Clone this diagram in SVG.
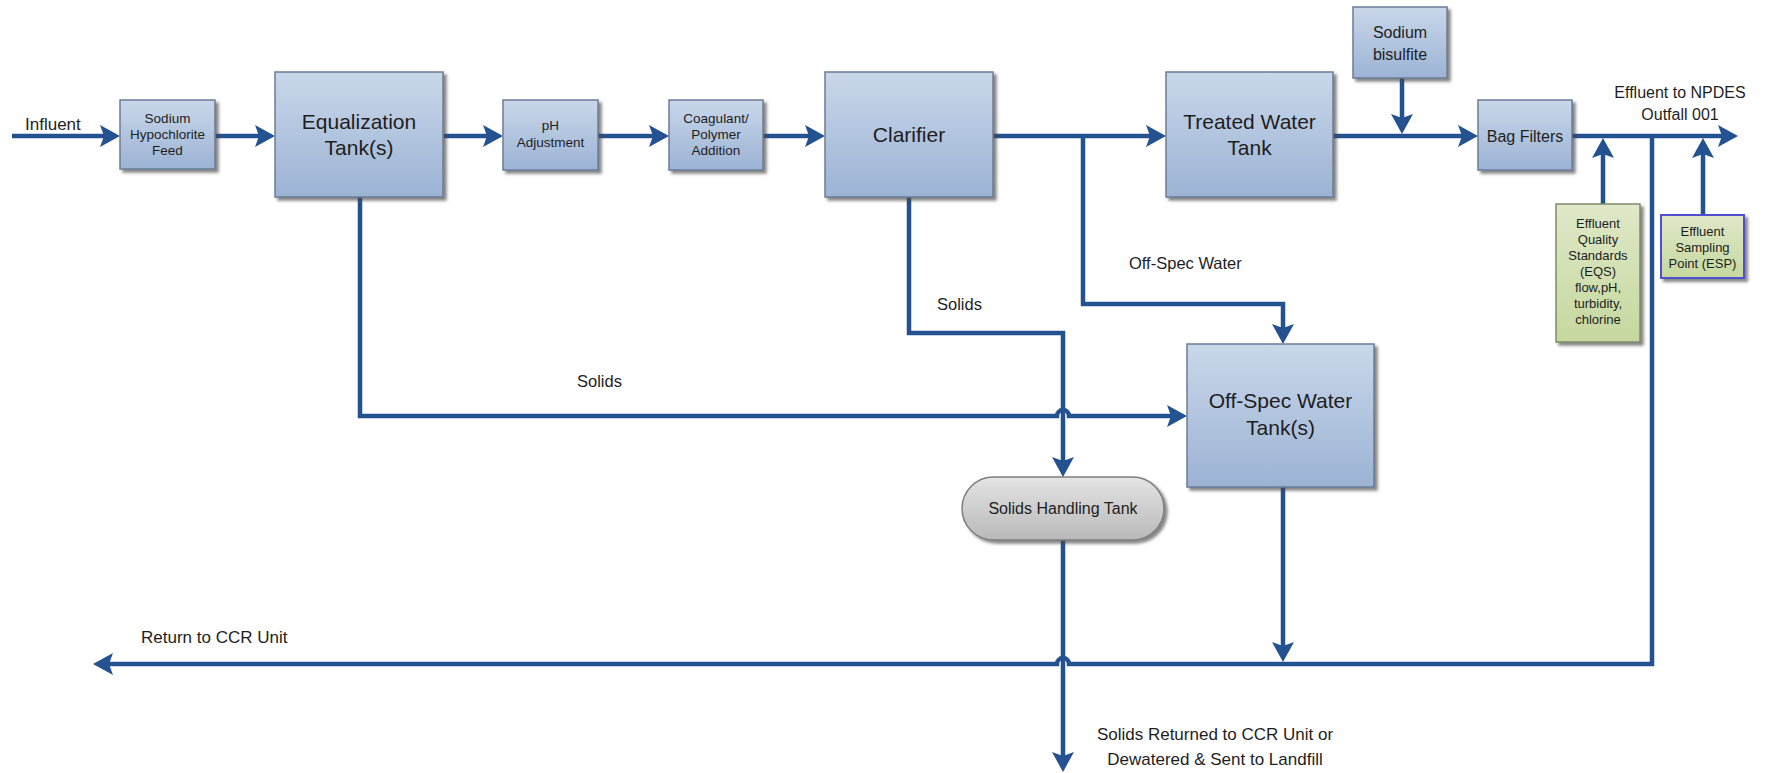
<svg xmlns="http://www.w3.org/2000/svg" width="1767" height="773" viewBox="0 0 1767 773">
<defs>
<linearGradient id="gBlue" x1="0" y1="0" x2="0" y2="1"><stop offset="0" stop-color="#c9d7ea"/><stop offset="1" stop-color="#9cb3d4"/></linearGradient>
<linearGradient id="gGreen" x1="0" y1="0" x2="0" y2="1"><stop offset="0" stop-color="#dfe8c8"/><stop offset="1" stop-color="#c6d89f"/></linearGradient>
<linearGradient id="gGray" x1="0" y1="0" x2="0" y2="1"><stop offset="0" stop-color="#e4e4e4"/><stop offset="1" stop-color="#b9b9b9"/></linearGradient>
<filter id="sh" x="-10%" y="-10%" width="130%" height="130%"><feDropShadow dx="3" dy="3" stdDeviation="1.5" flood-color="#444" flood-opacity="0.65"/></filter>
<marker id="arr" markerUnits="userSpaceOnUse" viewBox="0 0 20 22" markerWidth="20" markerHeight="22" refX="6" refY="11" orient="auto"><path d="M0,0 L20,11 L0,22 L4,11 z" fill="#24518f"/></marker>
<style>
.box{fill:url(#gBlue);stroke:#6b7c96;stroke-width:1.5;filter:url(#sh)}
.gbox{fill:url(#gGreen);stroke:#7d8b68;stroke-width:1.5;filter:url(#sh)}
.pill{fill:url(#gGray);stroke:#7f7f7f;stroke-width:1.5;filter:url(#sh)}
.ln{fill:none;stroke:#24518f;stroke-width:4.5;stroke-linejoin:miter}
.ar{marker-end:url(#arr)}
text{font-family:"Liberation Sans",Arial,sans-serif;fill:#1e1e1e}
.c{text-anchor:middle}
.s{font-size:13.5px}
.xs{font-size:13px}
.m{font-size:16px}
.l{font-size:21px}
.lb{font-size:17px}
</style>
</defs>

<g id="connectors">
<path class="ln ar" d="M12,136 H106"/>
<path class="ln ar" d="M215,136 H261"/>
<path class="ln ar" d="M443,136 H489"/>
<path class="ln ar" d="M598,136 H655"/>
<path class="ln ar" d="M763,136 H811"/>
<path class="ln ar" d="M993,136 H1152"/>
<path class="ln ar" d="M1333,136 H1464"/>
<path class="ln ar" d="M1402,78 V120"/>
<path class="ln ar" d="M1572,136 H1724"/>
<path class="ln ar" d="M1603,204 V152"/>
<path class="ln ar" d="M1703,215 V152"/>
<path class="ln ar" d="M1652,136 V664 H1069 a6,6 0 0 0 -12,0 H107"/>
<path class="ln ar" d="M1283,487 V648"/>
<path class="ln ar" d="M1063,540 V758"/>
<path class="ln ar" d="M360,197 V416 H1057 a6,6 0 0 1 12,0 H1173"/>
<path class="ln ar" d="M909,197 V333 H1063 V463"/>
<path class="ln ar" d="M1083,136 V304 H1283 V330"/>
</g>

<g id="labels">
<text class="lb" x="25" y="130">Influent</text>
<text class="m c" x="1680" y="98">Effluent to NPDES</text>
<text class="m c" x="1680" y="120">Outfall 001</text>
<text class="m" x="1129" y="269" style="font-size:16.5px">Off-Spec Water</text>
<text class="m" x="937" y="310" style="font-size:16.5px">Solids</text>
<text class="m" x="577" y="387" style="font-size:16.5px">Solids</text>
<text class="lb" x="141" y="643">Return to CCR Unit</text>
<text class="lb c" x="1215" y="740">Solids Returned to CCR Unit or</text>
<text class="lb c" x="1215" y="765">Dewatered &amp; Sent to Landfill</text>
</g>

<g id="hypochlorite">
<rect class="box" x="120" y="100" width="95" height="69"/>
<text class="s c" x="167.5" y="123">Sodium</text>
<text class="s c" x="167.5" y="139">Hypochlorite</text>
<text class="s c" x="167.5" y="155">Feed</text>
</g>

<g id="equalization">
<rect class="box" x="275" y="72" width="168" height="125"/>
<text class="l c" x="359" y="129">Equalization</text>
<text class="l c" x="359" y="155">Tank(s)</text>
</g>

<g id="ph">
<rect class="box" x="503" y="100" width="95" height="70"/>
<text class="s c" x="550.5" y="130">pH</text>
<text class="s c" x="550.5" y="147">Adjustment</text>
</g>

<g id="coagulant">
<rect class="box" x="669" y="100" width="94" height="70"/>
<text class="s c" x="716" y="123">Coagulant/</text>
<text class="s c" x="716" y="139">Polymer</text>
<text class="s c" x="716" y="155">Addition</text>
</g>

<g id="clarifier">
<rect class="box" x="825" y="72" width="168" height="125"/>
<text class="l c" x="909" y="142">Clarifier</text>
</g>

<g id="treated">
<rect class="box" x="1166" y="72" width="167" height="125"/>
<text class="l c" x="1249.5" y="129">Treated Water</text>
<text class="l c" x="1249.5" y="155">Tank</text>
</g>

<g id="bisulfite">
<rect class="box" x="1353" y="7" width="94" height="71"/>
<text class="m c" x="1400" y="38">Sodium</text>
<text class="m c" x="1400" y="60">bisulfite</text>
</g>

<g id="bagfilters">
<rect class="box" x="1478" y="100" width="94" height="70"/>
<text class="m c" x="1525" y="142">Bag Filters</text>
</g>

<g id="eqs">
<rect class="gbox" x="1556" y="204" width="84" height="138"/>
<text class="xs c" x="1598" y="228">Effluent</text>
<text class="xs c" x="1598" y="244">Quality</text>
<text class="xs c" x="1598" y="260">Standards</text>
<text class="xs c" x="1598" y="276">(EQS)</text>
<text class="xs c" x="1598" y="292">flow,pH,</text>
<text class="xs c" x="1598" y="308">turbidity,</text>
<text class="xs c" x="1598" y="324">chlorine</text>
</g>

<g id="esp">
<rect class="gbox" x="1661" y="215" width="83" height="63" style="stroke:#5050d0;stroke-width:2"/>
<text class="xs c" x="1702.5" y="236">Effluent</text>
<text class="xs c" x="1702.5" y="252">Sampling</text>
<text class="xs c" x="1702.5" y="268">Point (ESP)</text>
</g>

<g id="offspec">
<rect class="box" x="1187" y="344" width="187" height="143"/>
<text class="l c" x="1280.5" y="408">Off-Spec Water</text>
<text class="l c" x="1280.5" y="435">Tank(s)</text>
</g>

<g id="solidstank">
<rect class="pill" x="962" y="477" width="202" height="63" rx="31.5" ry="31.5"/>
<text class="m c" x="1063" y="514">Solids Handling Tank</text>
</g>
</svg>
